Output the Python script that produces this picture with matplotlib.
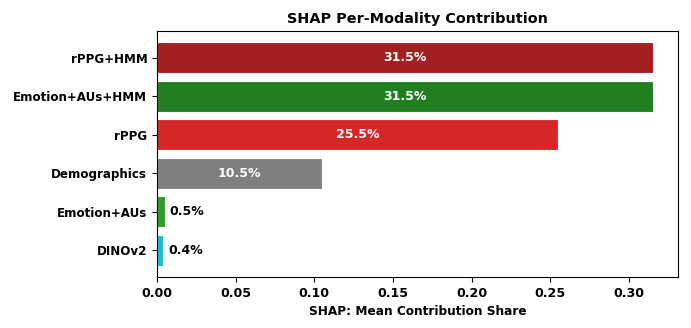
import numpy as np
import matplotlib.pyplot as plt

modalities = ["rPPG+HMM", "Emotion+AUs+HMM", "rPPG", "Demographics", "Emotion+AUs", "DINOv2"]
shares = [0.315, 0.315, 0.255, 0.105, 0.005, 0.004]
colors = ["#a31f20", "#217f21", "#d62728", "#7f7f7f", "#2ca02c", "#17becf"]

fig = plt.figure(figsize=(6.91, 3.28), dpi=100)
ax = fig.add_axes([0.2272, 0.1555, 0.754, 0.750])

y = np.arange(len(modalities))
bars = ax.barh(y, shares, color=colors, edgecolor="white", linewidth=0.8, height=0.8)
ax.invert_yaxis()
ax.set_yticks(y)
ax.set_yticklabels(modalities, fontweight="bold", fontsize=8.6)
ax.set_xlim(0, max(shares) * 1.051)

for b, v in zip(bars, shares):
    cy = b.get_y() + b.get_height() / 2
    if v > 0.05:
        ax.text(v / 2, cy, f"{v*100:.1f}%", ha="center", va="center",
                color="white", fontweight="bold", fontsize=9)
    else:
        ax.text(v + 0.003, cy, f"{v*100:.1f}%", ha="left", va="center",
                color="black", fontweight="bold", fontsize=9)

for lab in ax.get_xticklabels():
    lab.set_fontweight("bold")
    lab.set_fontsize(9.1)
ax.set_xlabel("SHAP: Mean Contribution Share", fontweight="bold", fontsize=8.7)
ax.set_title("SHAP Per-Modality Contribution", fontweight="bold", fontsize=10.4)

fig.savefig("out.png", dpi=100)
